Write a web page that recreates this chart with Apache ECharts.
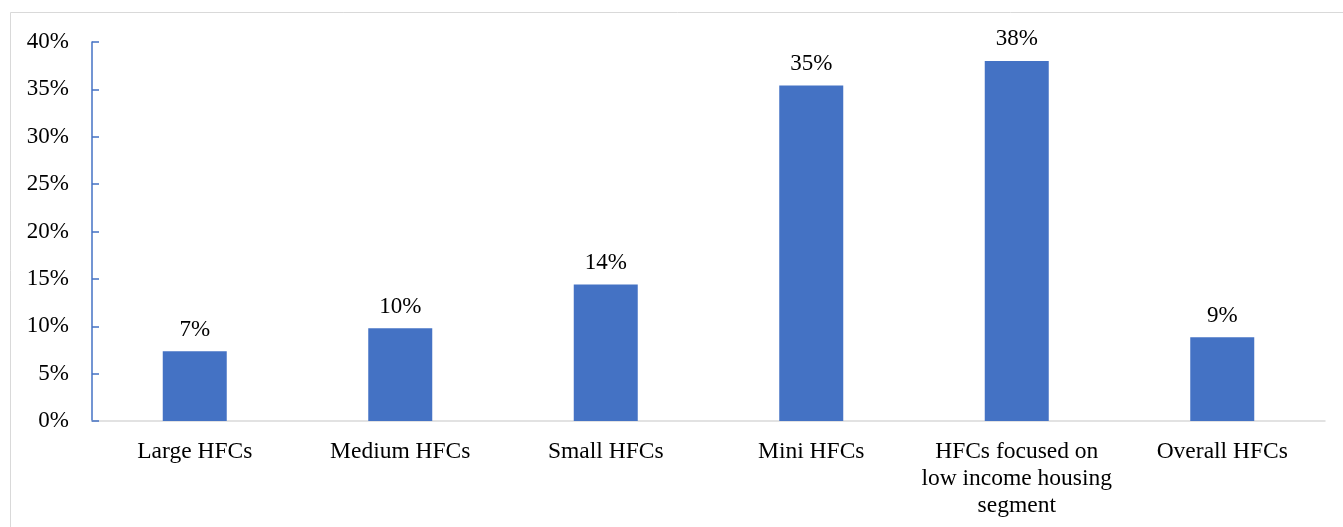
<!DOCTYPE html>
<html>
<head>
<meta charset="utf-8">
<script src="https://cdn.jsdelivr.net/npm/echarts@6/dist/echarts.min.js"></script>
<style>
  html, body { margin: 0; padding: 0; background: #fff; }
  #chart { width: 1343px; height: 527px; }
</style>
</head>
<body>
<div id="chart"></div>
<script>
var categories = ['Large HFCs', 'Medium HFCs', 'Small HFCs', 'Mini HFCs',
  'HFCs focused on\nlow income housing\nsegment', 'Overall HFCs'];
var shares = [7.35, 9.8, 14.4, 35.4, 38.0, 8.85];
var yTicks = [0, 5, 10, 15, 20, 25, 30, 35, 40];

var myChart = echarts.init(document.getElementById('chart'));
var font = '"Liberation Serif", "Times New Roman", serif';

var option = {
  backgroundColor: '#fff',
  animation: false,
  graphic: [{
    type: 'rect',
    shape: { x: 10.5, y: 12.5, width: 1340, height: 530 },
    style: { fill: 'none', stroke: '#d9d9d9', lineWidth: 1 }
  }],
  grid: { left: 92, right: 18, top: 42, bottom: 106 },
  xAxis: {
    type: 'category',
    data: categories,
    axisLine: { lineStyle: { color: '#d9d9d9', width: 1.5 } },
    axisTick: { show: false },
    axisLabel: {
      interval: 0,
      color: '#000',
      fontFamily: font,
      fontSize: 23.5,
      lineHeight: 27,
      margin: 17
    }
  },
  yAxis: {
    type: 'value',
    min: yTicks[0],
    max: yTicks[yTicks.length - 1],
    interval: 5,
    axisLine: { show: true, lineStyle: { color: '#4472C4', width: 1.5 } },
    axisTick: { show: true, inside: true, length: 7, lineStyle: { color: '#4472C4', width: 1.5 } },
    splitLine: { show: false },
    axisLabel: {
      color: '#000',
      fontFamily: font,
      fontSize: 23,
      margin: 23,
      formatter: function (v) { return v + '%'; }
    }
  },
  series: [{
    type: 'bar',
    data: shares,
    barWidth: 64,
    itemStyle: { color: '#4472C4' },
    label: {
      show: true,
      position: 'top',
      distance: 10,
      color: '#000',
      fontFamily: font,
      fontSize: 23,
      formatter: function (p) { return Math.round(p.value) + '%'; }
    }
  }]
};

myChart.setOption(option);
</script>
</body>
</html>
